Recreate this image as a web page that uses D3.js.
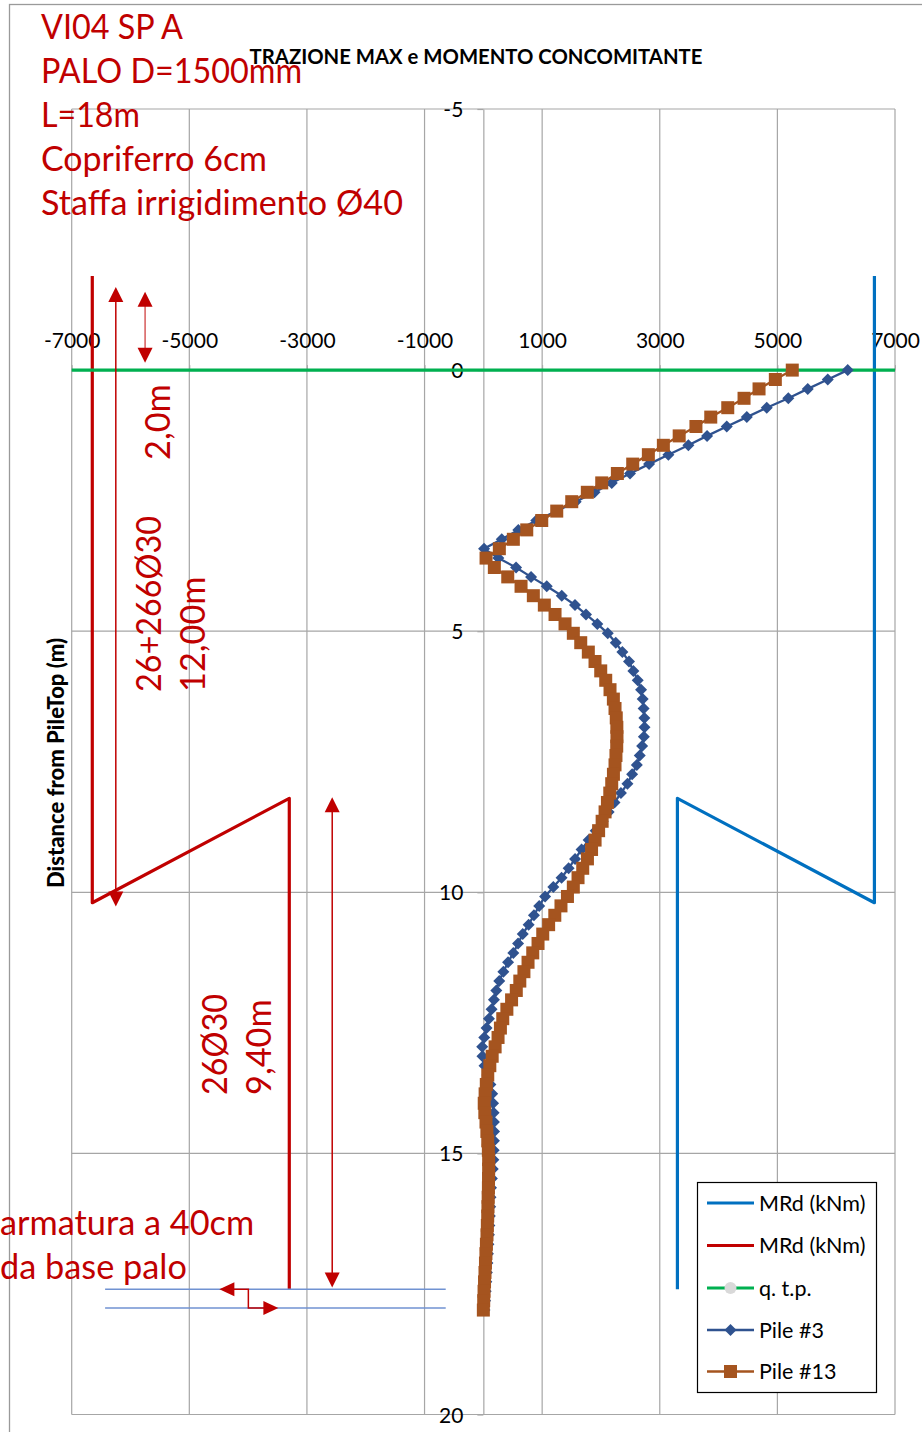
<!DOCTYPE html>
<html><head><meta charset="utf-8">
<script src="https://cdn.jsdelivr.net/npm/d3@7"></script>
<style>
body{margin:0;background:#fff;}
svg{display:block;}
text{font-family:Lato,"Open Sans",sans-serif;}
</style>
</head><body>
<svg id="c" width="922" height="1432"></svg>
<script>
// ---------------- DATA ----------------
const depth = [0,0.18,0.36,0.54,0.72,0.9,1.08,1.26,1.44,1.62,1.8,1.98,2.16,2.34,2.52,2.7,2.88,3.06,3.24,3.42,
3.6,3.78,3.96,4.14,4.32,4.5,4.68,4.86,5.04,5.22,5.4,5.58,5.76,5.94,6.12,6.3,6.48,6.66,6.84,7.02,
7.2,7.38,7.56,7.74,7.92,8.1,8.28,8.46,8.64,8.82,9,9.18,9.36,9.54,9.72,9.9,10.08,10.26,10.44,10.62,
10.8,10.98,11.16,11.34,11.52,11.7,11.88,12.06,12.24,12.42,12.6,12.78,12.96,13.14,13.32,13.5,13.68,13.86,14.04,14.22,
14.4,14.58,14.76,14.94,15.12,15.3,15.48,15.66,15.84,16.02,16.2,16.38,16.56,16.74,16.92,17.1,17.28,17.46,17.64,17.82,18];
const pile3 = [6196,5856,5516,5186,4819,4480,4139,3804,3486,3146,
2818,2494,2183,1890,1570,1248,900,595,313,12,
255,556,811,1078,1333,1559,1746,1938,2115,2251,
2364,2477,2551,2625,2682,2710,2725,2738,2740,2730,
2700,2660,2610,2530,2450,2340,2230,2130,2030,1910,
1790,1670,1560,1450,1330,1190,1050,950,860,770,
670,590,510,420,340,270,220,180,140,95,
55,15,-20,-15,20,70,120,150,165,175,
180,182,180,176,170,160,145,130,122,116,
110,102,95,86,78,70,60,50,40,30,20];
const pile13 = [5253,4965,4688,4433,4156,3867,3615,3330,3061,2806,
2540,2279,2013,1768,1503,1248,993,738,510,272,
46,187,415,641,850,1037,1219,1389,1530,1656,
1785,1899,1996,2081,2154,2211,2239,2260,2270,2272,
2268,2255,2239,2212,2183,2150,2110,2070,2020,1960,
1900,1840,1770,1690,1610,1530,1430,1320,1215,1110,
1010,930,840,760,690,620,560,480,400,330,
290,250,200,150,110,75,50,30,15,25,
45,60,75,85,90,90,88,86,82,78,
74,68,62,52,44,36,28,20,12,6,0];
const mrdPosX = [6650,6650,3300,3300];
const mrdNegX = [-6650,-6650,-3300,-3300];
const mrdDepth = [-1.8,10.2,8.2,17.6];
const qtpX = [-7000,7000];
const qtpDepth = [0,0];
const xTicks = [-7000,-5000,-3000,-1000,1000,3000,5000,7000];
const yTicks = [-5,0,5,10,15,20];
const seriesNames = ["MRd (kNm)","MRd (kNm)","q. t.p.","Pile #3","Pile #13"];
const chartTitle = "TRAZIONE MAX e MOMENTO CONCOMITANTE";
const yTitle = "Distance from PileTop (m)";
const infoLines = ["VI04 SP A","PALO D=1500mm","L=18m","Copriferro 6cm","Staffa irrigidimento Ø40"];
const noteLines = ["armatura a 40cm","da base palo"];
const rotNotes = [["2,0m"],["26+266Ø30","12,00m"],["26Ø30","9,40m"]];

// ---------------- LAYOUT ----------------
const svg = d3.select("#c");
const x = d3.scaleLinear().domain([-7000,7000]).range([71.7,895]);
const y = d3.scaleLinear().domain([-5,20]).range([109,1414.5]);
const GRID = "#a6a6a6";
const C_BLUE = "#0070C0", C_RED = "#C00000", C_GREEN = "#00B050";
const C_P3 = "#2F528F", C_P13 = "#A5541F";
const FONT = "Lato, 'Open Sans', sans-serif";

// chart border
svg.append("rect").attr("x",9.5).attr("y",4.5).attr("width",1000).attr("height",1600)
  .attr("fill","#fff").attr("stroke","#9a9a9a").attr("stroke-width",1.3);

// gridlines
const g = svg.append("g");
g.selectAll("line.vg").data(xTicks).join("line").attr("class","vg")
  .attr("x1",d=>x(d)).attr("x2",d=>x(d)).attr("y1",y(-5)).attr("y2",y(20))
  .attr("stroke",GRID).attr("stroke-width",1.2);
g.selectAll("line.hg").data(yTicks).join("line").attr("class","hg")
  .attr("x1",x(-7000)).attr("x2",x(7000)).attr("y1",d=>y(d)).attr("y2",d=>y(d))
  .attr("stroke",GRID).attr("stroke-width",1.2);

// y axis (crosses at x=0)
const yAxisG = svg.append("g").attr("transform",`translate(${x(0)},0)`)
  .call(d3.axisLeft(y).tickValues(yTicks).tickSize(6).tickSizeOuter(0).tickPadding(14).tickFormat(d=>String(d)));
yAxisG.select(".domain").attr("stroke",GRID).attr("stroke-width",1.2);
yAxisG.selectAll(".tick line").attr("stroke",GRID).attr("stroke-width",1.2);
yAxisG.selectAll("text").attr("font-family",FONT).attr("font-size",21).attr("fill","#000").attr("dy","0.36em");

// x axis (crosses at depth 0)
const xAxisG = svg.append("g").attr("transform",`translate(0,${y(0)})`)
  .call(d3.axisTop(x).tickValues(xTicks).tickSize(5).tickSizeOuter(0).tickPadding(17).tickFormat(d=>String(d)));
xAxisG.select(".domain").attr("stroke",GRID);
xAxisG.selectAll(".tick line").attr("stroke",GRID);
xAxisG.selectAll("text").attr("font-family",FONT).attr("font-size",21).attr("fill","#000");

// series
const line = d3.line().x(d=>x(d[0])).y(d=>y(d[1]));
const mk = (xs,ys)=>xs.map((v,i)=>[v,ys[i]]);
svg.append("path").datum(mk(mrdPosX,mrdDepth)).attr("d",line).attr("fill","none")
  .attr("stroke",C_BLUE).attr("stroke-width",3.2).attr("stroke-linejoin","round");
svg.append("path").datum(mk(mrdNegX,mrdDepth)).attr("d",line).attr("fill","none")
  .attr("stroke",C_RED).attr("stroke-width",3.2).attr("stroke-linejoin","round");
svg.append("path").datum(mk(qtpX,qtpDepth)).attr("d",line).attr("fill","none")
  .attr("stroke",C_GREEN).attr("stroke-width",3.3);

const diamond = r=>`M0,${-r}L${r},0L0,${r}L${-r},0Z`;
const p3 = depth.map((d,i)=>[pile3[i],d]);
const p13 = depth.map((d,i)=>[pile13[i],d]);
svg.append("path").datum(p3).attr("d",line).attr("fill","none").attr("stroke",C_P3).attr("stroke-width",2.3);
svg.append("g").selectAll("path").data(p3).join("path")
  .attr("transform",d=>`translate(${x(d[0])},${y(d[1])})`).attr("d",diamond(6)).attr("fill",C_P3);
svg.append("path").datum(p13).attr("d",line).attr("fill","none").attr("stroke",C_P13).attr("stroke-width",2.3);
svg.append("g").selectAll("rect").data(p13).join("rect")
  .attr("x",d=>x(d[0])-6.5).attr("y",d=>y(d[1])-6.5).attr("width",13).attr("height",13)
  .attr("fill",C_P13);

// title & axis title
svg.append("text").attr("x",476).attr("y",64).attr("text-anchor","middle")
  .attr("font-family",FONT).attr("font-weight","bold").attr("font-size",20.3).attr("fill","#000").text(chartTitle);
svg.append("text").attr("transform","translate(64,763) rotate(-90)").attr("text-anchor","middle")
  .attr("font-family",FONT).attr("font-weight",900).attr("font-size",22).attr("fill","#000").text(yTitle);

// legend
const lg = svg.append("g");
lg.append("rect").attr("x",697.5).attr("y",1182.5).attr("width",179).attr("height",210)
  .attr("fill","#fff").attr("stroke","#000").attr("stroke-width",1.2);
const legY = [1203,1245.5,1288,1330,1371.5];
const legColors = [C_BLUE,C_RED,C_GREEN,C_P3,C_P13];
seriesNames.forEach((n,i)=>{
  lg.append("line").attr("x1",707).attr("x2",754).attr("y1",legY[i]).attr("y2",legY[i])
    .attr("stroke",legColors[i]).attr("stroke-width",i<3?3.2:2.6);
  if(i===2) lg.append("circle").attr("cx",730.5).attr("cy",legY[i]).attr("r",6).attr("fill","#d9d9d9");
  if(i===3) lg.append("path").attr("transform",`translate(730.5,${legY[i]})`).attr("d",diamond(6)).attr("fill",C_P3);
  if(i===4) lg.append("rect").attr("x",724).attr("y",legY[i]-6.5).attr("width",13).attr("height",13).attr("fill",C_P13);
  lg.append("text").attr("x",759).attr("y",legY[i]).attr("dy","0.36em")
    .attr("font-family",FONT).attr("font-size",21.5).attr("fill","#000").text(n);
});

// ---------------- ANNOTATIONS ----------------
const ann = svg.append("g");
function head(px,py,dir,len=15,w=15){
  let p;
  if(dir==="up") p=[[px,py],[px-w/2,py+len],[px+w/2,py+len]];
  if(dir==="down") p=[[px,py],[px-w/2,py-len],[px+w/2,py-len]];
  if(dir==="left") p=[[px,py],[px+len,py-w/2],[px+len,py+w/2]];
  if(dir==="right") p=[[px,py],[px-len,py-w/2],[px-len,py+w/2]];
  ann.append("path").attr("d","M"+p.map(q=>q.join(",")).join("L")+"Z").attr("fill",C_RED);
}
function vArrow(xv,y1v,y2v,op){
  const px=x(xv), a=y(y1v), b=y(y2v);
  ann.append("line").attr("x1",px).attr("x2",px).attr("y1",a+10).attr("y2",b-10)
    .attr("stroke",C_RED).attr("stroke-width",1.5).attr("stroke-opacity",op);
  head(px,a,"up"); head(px,b,"down");
}
vArrow(-6250,-1.59,10.27,1);
vArrow(-5752,-1.5,-0.14,0.65);
vArrow(-2570,8.18,17.57,1);
[17.6,17.96].forEach(d=>{
  ann.append("line").attr("x1",x(-6432)).attr("x2",x(-640)).attr("y1",y(d)).attr("y2",y(d))
    .attr("stroke","#7092D2").attr("stroke-width",1.5);
});
ann.append("path").attr("d",`M${x(-4450)},${y(17.6)}L${x(-3996)},${y(17.6)}L${x(-3996)},${y(17.96)}L${x(-3530)},${y(17.96)}`)
  .attr("fill","none").attr("stroke",C_RED).attr("stroke-width",1.5);
head(x(-4489),y(17.6),"left",15,14);
head(x(-3486),y(17.96),"right",15,14);

// texts
const tg = svg.append("g").attr("font-family",FONT).attr("fill",C_RED).attr("font-size",34.3);
const infoWidths = [142,261,99,226,362];
infoLines.forEach((t,i)=>tg.append("text").attr("x",41).attr("y",38.5+i*44.1)
  .attr("textLength",infoWidths[i]).attr("lengthAdjust","spacingAndGlyphs").text(t));
noteLines.forEach((t,i)=>tg.append("text").attr("x",0).attr("y",1235+i*44.1).text(t));
const rotPos = [[170,460],[161,692],[227,1095]];
const rotWidths = [[null],[176,null],[101,null]];
rotNotes.forEach((lines,k)=>{
  lines.forEach((t,i)=>{
    const el = tg.append("text").attr("transform",`translate(${rotPos[k][0]+i*44.1},${rotPos[k][1]}) rotate(-90)`).text(t);
    if(rotWidths[k][i]) el.attr("textLength",rotWidths[k][i]).attr("lengthAdjust","spacingAndGlyphs");
  });
});
</script>
</body></html>
